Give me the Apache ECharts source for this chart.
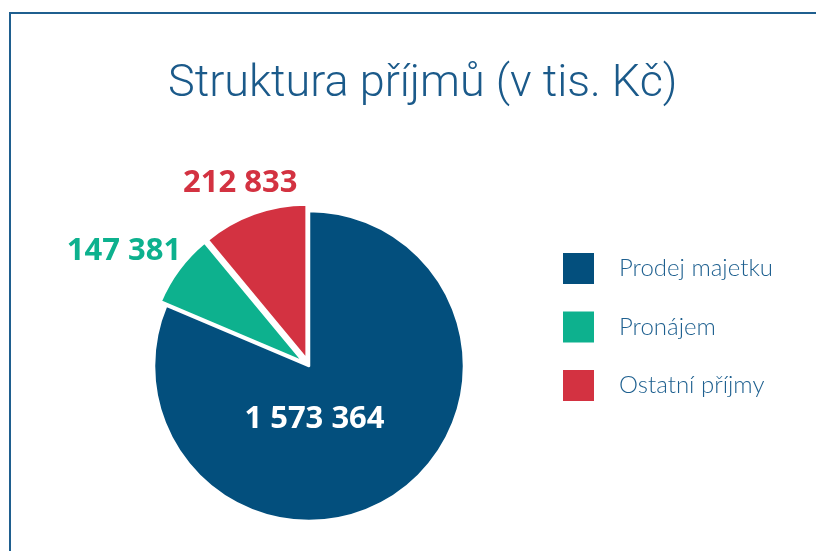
<!DOCTYPE html>
<html>
<head>
<meta charset="utf-8">
<script src="https://cdn.jsdelivr.net/npm/echarts@6/dist/echarts.min.js"></script>
<style>
  html, body { margin: 0; padding: 0; background: #fff; }
  #wrap { position: relative; width: 816px; height: 551px; overflow: hidden; }
  #frame {
    position: absolute; left: 9px; top: 12px; width: 900px; height: 600px;
    border-top: 2px solid #1f5f8f; border-left: 2px solid #1f5f8f;
  }
  #chart { position: absolute; left: 0; top: 0; width: 816px; height: 551px; }
</style>
</head>
<body>
<div id="wrap">
  <div id="frame"></div>
  <div id="chart"></div>
</div>
<script>
const categories = ['Prodej majetku', 'Pronájem', 'Ostatní příjmy']
const values = [1573364, 147381, 212833]
const colors = ['#034f7d', '#0db18e', '#d33241']
const labelColors = ['#ffffff', '#0db18e', '#d33241']
const labelOffsets = [[-39, -14], [-108, -51], [-17, -99]]
const exploded = [false, true, true]

const fmt = v => String(v).replace(/\B(?=(\d{3})+(?!\d))/g, ' ')

const chart = echarts.init(document.getElementById('chart'), null, { renderer: 'canvas' })

const labelFor = i => ({
  show: true,
  position: 'inside',
  formatter: p => fmt(p.value),
  fontFamily: 'Open Sans',
  fontWeight: 'bold',
  fontSize: 31,
  color: labelColors[i],
  offset: labelOffsets[i]
})

chart.setOption({
  animation: false,
  title: {
    text: 'Struktura příjmů (v tis. Kč)',
    left: 163,
    top: 57,
    textStyle: {
      fontFamily: 'Roboto',
      fontWeight: 300,
      fontSize: 45,
      color: '#1b5a8a'
    }
  },
  legend: {
    orient: 'vertical',
    left: 563,
    top: 253,
    padding: 0,
    itemWidth: 31,
    itemHeight: 31,
    itemGap: 27.5,
    icon: 'rect',
    selectedMode: false,
    itemStyle: { borderWidth: 0 },
    textStyle: {
      fontFamily: 'Lato',
      fontWeight: 300,
      fontSize: 24,
      color: '#1d5f8f',
      padding: [0, 0, 0, 20]
    },
    data: categories
  },
  series: [{
    type: 'pie',
    center: [309, 366],
    radius: 155,
    startAngle: 90,
    clockwise: true,
    selectedMode: 'multiple',
    selectedOffset: 7,
    avoidLabelOverlap: false,
    itemStyle: { borderColor: '#fff', borderWidth: 2.5 },
    emphasis: { disabled: true },
    labelLine: { show: false },
    data: categories.map((name, i) => ({
      name,
      value: values[i],
      selected: exploded[i],
      itemStyle: { color: colors[i] },
      label: labelFor(i),
      select: { label: labelFor(i), itemStyle: { color: colors[i] } }
    }))
  }]
})
</script>
</body>
</html>
